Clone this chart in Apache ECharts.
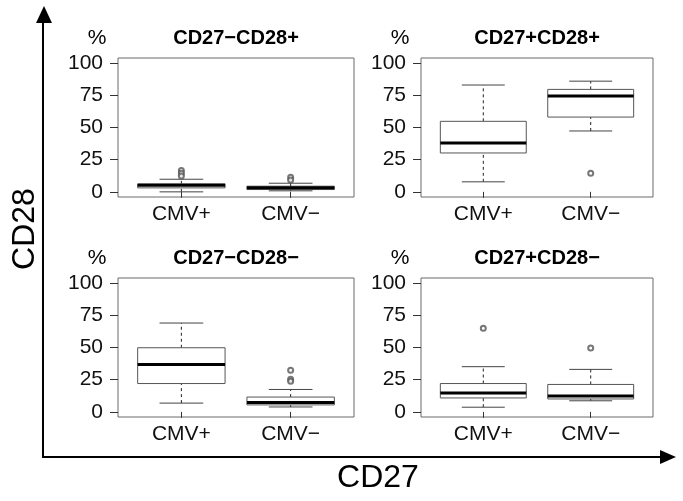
<!DOCTYPE html>
<html>
<head>
<meta charset="utf-8">
<script src="https://cdn.jsdelivr.net/npm/echarts@6/dist/echarts.min.js"></script>
<style>html,body{margin:0;padding:0;background:#fff}#c{width:683px;height:501px}</style>
</head>
<body>
<div id="c"></div>
<script>
// ---- data ----
const categories = ['CMV+', 'CMV\u2212'];
const panelTitles = ['CD27\u2212CD28+', 'CD27+CD28+', 'CD27\u2212CD28\u2212', 'CD27+CD28\u2212'];
const yTicks = [0, 25, 50, 75, 100];
// box stats per panel: [min, Q1, median, Q3, max] for CMV+ and CMV-
const boxCD27negCD28pos = [[0, 3.1, 5.2, 6.2, 9.8], [0.8, 1.8, 3.1, 4.4, 6.7]];
const boxCD27posCD28pos = [[7.8, 30.2, 38.0, 54.8, 83.0], [47.3, 58.1, 74.4, 79.6, 86.0]];
const boxCD27negCD28neg = [[6.8, 22.0, 36.7, 49.8, 69.0], [3.8, 5.4, 7.2, 11.5, 17.4]];
const boxCD27posCD28neg = [[3.6, 10.8, 14.6, 22.0, 35.1], [8.6, 10.0, 12.3, 21.3, 33.0]];
// outliers per panel: [CMV+ list, CMV- list]
const outCD27negCD28pos = [[16.5, 14.5, 12.4], [11.4, 9.3]];
const outCD27posCD28pos = [[], [14.5]];
const outCD27negCD28neg = [[], [32.3, 25.4, 23.8]];
const outCD27posCD28neg = [[64.9], [49.7]];

const boxes = [boxCD27negCD28pos, boxCD27posCD28pos, boxCD27negCD28neg, boxCD27posCD28neg];
const outs = [outCD27negCD28pos, outCD27posCD28pos, outCD27negCD28neg, outCD27posCD28neg];

// ---- layout ----
const FONT = 'Liberation Sans, Arial, Helvetica, sans-serif';
const gridRects = [
  {left: 118, top: 58, width: 236, height: 139},
  {left: 421, top: 58, width: 232, height: 139},
  {left: 118, top: 278, width: 236, height: 139},
  {left: 421, top: 278, width: 232, height: 139}
];

const chart = echarts.init(document.getElementById('c'), null, {renderer: 'canvas'});

const grid = [], xAxis = [], yAxis = [], series = [], graphic = [];
gridRects.forEach((r, i) => {
  grid.push(Object.assign({show: true, borderColor: '#6a6a6a', borderWidth: 1, backgroundColor: 'transparent', containLabel: false}, r));
  xAxis.push({
    type: 'value', gridIndex: i, min: 0.42, max: 2.58,
    splitLine: {show: false}, axisLine: {show: false},
    axisTick: {show: true, customValues: [1, 2], length: 6, lineStyle: {color: '#333'}},
    axisLabel: {customValues: [1, 2], formatter: v => categories[Math.round(v) - 1], color: '#111', fontSize: 21, fontFamily: FONT, margin: 7}
  });
  yAxis.push({
    type: 'value', gridIndex: i, min: -4, max: 104,
    splitLine: {show: false}, axisLine: {show: false},
    axisTick: {show: true, customValues: yTicks, length: 8, lineStyle: {color: '#333'}},
    axisLabel: {customValues: yTicks, color: '#111', fontSize: 21, fontFamily: FONT, margin: 15}
  });
  series.push({
    type: 'custom', xAxisIndex: i, yAxisIndex: i,
    data: boxes[i].map((s, k) => [k + 1].concat(s)),
    renderItem: function (params, api) {
      const x = api.value(0);
      const p = [1, 2, 3, 4, 5].map(d => api.coord([x, api.value(d)]));
      const hw = api.size([0.8, 0])[0] / 2;
      const cw = hw / 2;
      const cx = p[0][0];
      const dark = '#222';
      return {
        type: 'group',
        children: [
          {type: 'line', shape: {x1: cx, y1: p[0][1], x2: cx, y2: p[1][1]}, style: {stroke: dark, lineWidth: 1, lineDash: [3, 3]}},
          {type: 'line', shape: {x1: cx, y1: p[3][1], x2: cx, y2: p[4][1]}, style: {stroke: dark, lineWidth: 1, lineDash: [3, 3]}},
          {type: 'line', shape: {x1: cx - cw, y1: p[0][1], x2: cx + cw, y2: p[0][1]}, style: {stroke: '#444', lineWidth: 1}},
          {type: 'line', shape: {x1: cx - cw, y1: p[4][1], x2: cx + cw, y2: p[4][1]}, style: {stroke: '#444', lineWidth: 1}},
          {type: 'rect', shape: {x: cx - hw, y: p[3][1], width: 2 * hw, height: p[1][1] - p[3][1]}, style: {fill: '#fff', stroke: '#555', lineWidth: 1}},
          {type: 'line', shape: {x1: cx - hw, y1: p[2][1], x2: cx + hw, y2: p[2][1]}, style: {stroke: '#000', lineWidth: 3}}
        ]
      };
    }
  });
  const pts = [];
  outs[i].forEach((list, k) => list.forEach(v => pts.push([k + 1, v])));
  series.push({
    type: 'scatter', xAxisIndex: i, yAxisIndex: i, data: pts,
    symbol: 'emptyCircle', symbolSize: 5,
    itemStyle: {color: '#555', borderColor: '#555', borderWidth: 0.8}
  });
  const cx = r.left + r.width / 2;
  const ty = r.top - 20;
  graphic.push({type: 'text', x: cx, y: ty, style: {text: panelTitles[i], font: 'bold 20px ' + FONT, fill: '#000', align: 'center', verticalAlign: 'middle'}});
  graphic.push({type: 'text', x: r.left - 21, y: ty, style: {text: '%', font: '21px ' + FONT, fill: '#000', align: 'center', verticalAlign: 'middle'}});
});

// big axis arrows
graphic.push({type: 'polyline', shape: {points: [[43, 22], [43, 457], [662, 457]]}, style: {stroke: '#000', lineWidth: 2, fill: null}});
graphic.push({type: 'polygon', shape: {points: [[36, 23], [52, 23], [44, 6]]}, style: {fill: '#000'}});
graphic.push({type: 'polygon', shape: {points: [[660, 450], [660, 464], [676, 457]]}, style: {fill: '#000'}});
graphic.push({type: 'text', x: 378, y: 478, style: {text: 'CD27', font: '32px ' + FONT, fill: '#000', align: 'center', verticalAlign: 'middle'}});
graphic.push({type: 'text', x: 25, y: 229, rotation: Math.PI / 2, style: {text: 'CD28', font: '32px ' + FONT, fill: '#000', align: 'center', verticalAlign: 'middle'}});

chart.setOption({animation: false, backgroundColor: '#fff', grid, xAxis, yAxis, series, graphic});
</script>
</body>
</html>
